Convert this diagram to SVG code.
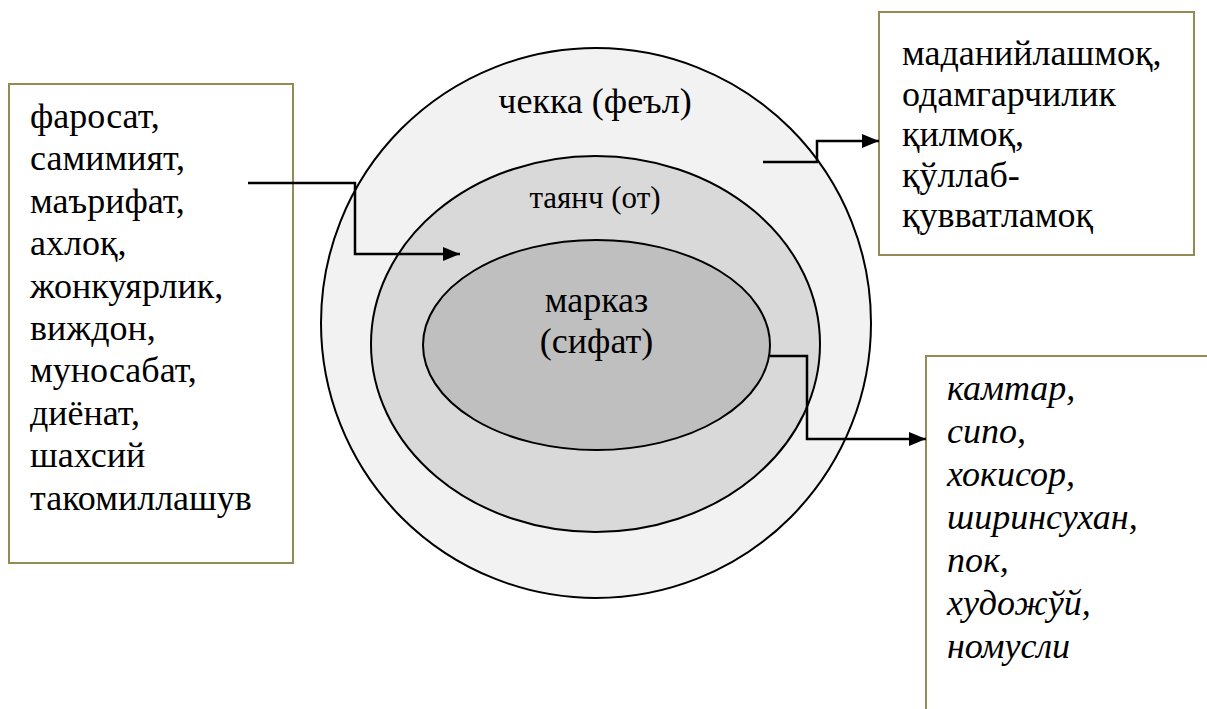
<svg xmlns="http://www.w3.org/2000/svg" width="1207" height="709" viewBox="0 0 1207 709">
  <style>
    text { font-family: 'Liberation Serif', 'Times New Roman', serif; font-size: 36px; fill: #000; }
    .it { font-style: italic; }
    .box { fill: #ffffff; stroke: #948a54; stroke-width: 2; }
    .ring { stroke: #000; stroke-width: 2; }
    .conn { fill: none; stroke: #000; stroke-width: 2.5; marker-end: url(#arr); }
  </style>
  <defs>
    <marker id="arr" markerUnits="userSpaceOnUse" markerWidth="18" markerHeight="15" refX="17" refY="7" orient="auto">
      <path d="M0,0 L17,7 L0,14 z" fill="#000"/>
    </marker>
  </defs>
  <rect width="1207" height="709" fill="#ffffff"/>

  <g id="outer">
    <ellipse class="ring" cx="596" cy="323" rx="275" ry="275" fill="#f2f2f2"/>
    <text x="595" y="113" text-anchor="middle">чекка (феъл)</text>
  </g>
  <g id="middle">
    <ellipse class="ring" cx="595.5" cy="344" rx="224.5" ry="188" fill="#d9d9d9"/>
    <text x="595" y="208" text-anchor="middle" style="font-size:31px">таянч (от)</text>
  </g>
  <g id="inner">
    <ellipse class="ring" cx="596.5" cy="345" rx="173.5" ry="105" fill="#bfbfbf"/>
    <text x="596.5" y="312" text-anchor="middle">марказ</text>
    <text x="596.5" y="353" text-anchor="middle">(сифат)</text>
  </g>

  <g id="box-left">
    <rect class="box" x="9" y="84" width="284" height="479"/>
    <text x="30" y="128">фаросат,</text>
    <text x="30" y="170.4">самимият,</text>
    <text x="30" y="212.8">маърифат,</text>
    <text x="30" y="255.2">ахлоқ,</text>
    <text x="30" y="297.6">жонкуярлик,</text>
    <text x="30" y="340">виждон,</text>
    <text x="30" y="382.4">муносабат,</text>
    <text x="30" y="424.8">диёнат,</text>
    <text x="30" y="467.2">шахсий</text>
    <text x="30" y="509.6">такомиллашув</text>
  </g>

  <g id="box-top-right">
    <rect class="box" x="879" y="12" width="315" height="243"/>
    <text x="902" y="65">маданийлашмоқ,</text>
    <text x="902" y="105.5">одамгарчилик</text>
    <text x="902" y="146">қилмоқ,</text>
    <text x="902" y="186.5">қўллаб-</text>
    <text x="902" y="227">қувватламоқ</text>
  </g>

  <g id="box-bottom-right">
    <rect class="box" x="926" y="356" width="300" height="400"/>
    <text class="it" x="947" y="400">камтар,</text>
    <text class="it" x="947" y="443">сипо,</text>
    <text class="it" x="947" y="486">хокисор,</text>
    <text class="it" x="947" y="529">ширинсухан,</text>
    <text class="it" x="947" y="572">пок,</text>
    <text class="it" x="947" y="615">художўй,</text>
    <text class="it" x="947" y="658">номусли</text>
  </g>

  <g id="connectors">
    <path class="conn" d="M248,183 H355 V254 H460"/>
    <path class="conn" d="M763,162 H817 V141 H879"/>
    <path class="conn" d="M770,356 H807 V439 H926"/>
  </g>
</svg>
